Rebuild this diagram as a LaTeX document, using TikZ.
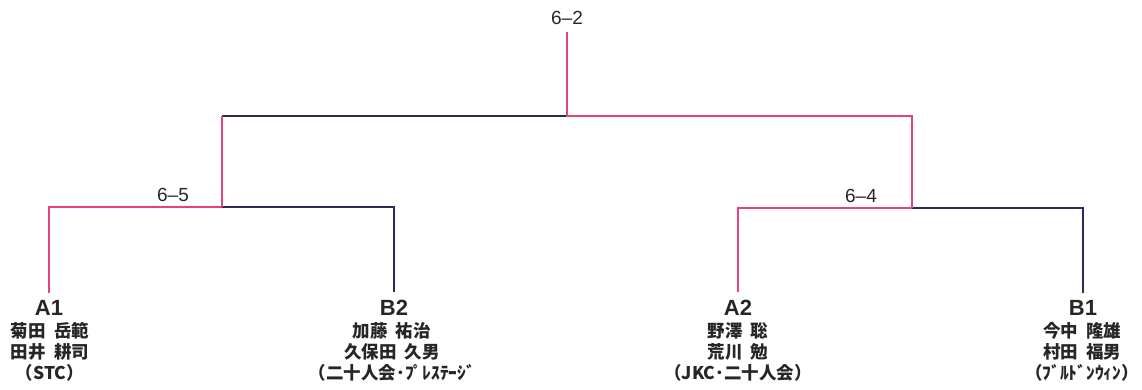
\documentclass[tikz,border=0pt]{standalone}
\usepackage{fontspec}
\setmainfont{Liberation Sans}
\newfontfamily\jpfont[WordSpace={2.0,0,0}]{Noto Sans CJK JP}
\usepackage{tikz}
\usetikzlibrary{positioning}

\definecolor{winpink}{RGB}{232,66,115}
\definecolor{losenavy}{RGB}{42,42,88}

\tikzset{
  winline/.style={winpink, line width=2pt},
  loseline/.style={losenavy, line width=1.6pt},
  seed/.style={font=\fontsize{22}{24}\selectfont\bfseries, inner sep=7pt, text=black!85},
  players/.style={font=\jpfont\bfseries\fontsize{17.5}{21}\selectfont, align=center, anchor=base, inner sep=0pt, text=black!85},
  score/.style={font=\fontsize{19}{21}\selectfont, anchor=base, inner sep=0pt, text=black!85}
}

\begin{document}
\begin{tikzpicture}[x=1pt, y=-1pt]
    \useasboundingbox (0,0) rectangle (1142,390);

    % Teams (players' base is the last line)
    \node[seed, anchor=base] (a1) at (49,315) {A1};
    \node[players] (a1n) at (50,379) {菊田 岳範\\田井 耕司\\（STC）};
    \node[seed, anchor=base] (b2) at (394,315) {B2};
    \node[players] (b2n) at (392,379) {加藤 祐治\\久保田 久男\\（二十人会･ﾌﾟﾚｽﾃｰｼﾞ};
    \node[seed, anchor=base] (a2) at (738,315) {A2};
    \node[players] (a2n) at (738,379) {野澤 聡\\荒川 勉\\（JKC･二十人会）};
    \node[seed, anchor=base] (b1) at (1083,315) {B1};
    \node[players] (b1n) at (1082,379) {今中 隆雄\\村田 福男\\（ﾌﾞﾙﾄﾞﾝｳｨﾝ）};

    % Scores
    \node[score] (s65) at (173,201) {6--5};
    \node[score] (s64) at (861,202) {6--4};
    \node[score] (s62) at (567,25) {6--2};

    % Junctions
    \coordinate (left) at (222,207);
    \coordinate (right) at (912,208);
    \coordinate (final) at (567,116);

    % Semi-finals
    \draw[loseline] (b2.north) |- (left); % B2 to junction
    \draw[winline] (a1.north) |- (left); % A1 wins
    \draw[loseline] (b1.north) |- (right); % B1 to junction
    \draw[winline] (a2.north) |- (right); % A2 wins

    % Final
    \draw[loseline] (left |- final) -- (final); % left side
    \draw[winline] (left) -- (left |- final); % left stem
    \draw[winline] (right) |- (final) -- (s62.south |- 0,32); % right side wins
\end{tikzpicture}
\end{document}
